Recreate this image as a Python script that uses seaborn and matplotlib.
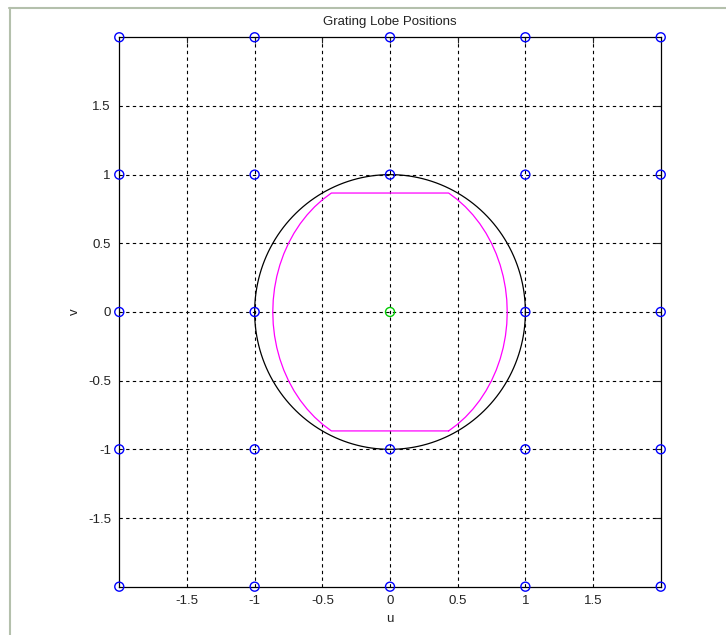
import numpy as np
import pandas as pd
import matplotlib
matplotlib.use("Agg")
import matplotlib.pyplot as plt
from matplotlib.lines import Line2D
import seaborn as sns

# Grating lobe lattice (u, v) and the main beam
lobe_u = [-2, -1, 0, 1, 2]
lobe_v = [-2, -1, 0, 1, 2]
main_beam = (0.0, 0.0)

# Scan limits (degrees) in azimuth / elevation
az_limits = [-60, 60]
el_limits = [-60, 60]
scan_step = 5

tick_vals = [-1.5, -1, -0.5, 0, 0.5, 1, 1.5]
tick_labels = ["-1.5", "-1", "-0.5", "0", "0.5", "1", "1.5"]

sns.set_theme(style="white")
plt.rcParams["font.family"] = ["Liberation Sans", "DejaVu Sans"]
plt.rcParams["font.size"] = 9.5

fig = plt.figure(figsize=(7.26, 6.35), dpi=100)
ax = fig.add_axes([0.1643, 0.0761, 0.7458, 0.8652])

# Visible-space boundary
t = np.radians(np.arange(0, 361, 2))
vis = pd.DataFrame({"u": np.cos(t), "v": np.sin(t)})
sns.lineplot(data=vis, x="u", y="v", sort=False, color="black", lw=0.9, ax=ax,
             estimator=None)

# Scan region boundary: az = +/-limit sides, el = +/-limit top/bottom
az0, az1 = az_limits
el0, el1 = el_limits
els = np.arange(el0, el1 + 1, scan_step)
azs = np.arange(az0, az1 + 1, scan_step)
path_az = np.concatenate([np.full(len(els), az1), azs[::-1], np.full(len(els), az0), azs])
path_el = np.concatenate([els, np.full(len(azs), el1), els[::-1], np.full(len(azs), el0)])
ra, re = np.radians(path_az), np.radians(path_el)
scan = pd.DataFrame({"u": np.cos(re) * np.sin(ra), "v": np.sin(re)})
sns.lineplot(data=scan, x="u", y="v", sort=False, color="#ff00ff", lw=0.9, ax=ax,
             estimator=None)

# Grating lobes
uu, vv = np.meshgrid(lobe_u, lobe_v)
lobes = pd.DataFrame({"u": uu.ravel(), "v": vv.ravel()})
lobes = lobes[~((lobes.u == main_beam[0]) & (lobes.v == main_beam[1]))]
sns.scatterplot(data=lobes, x="u", y="v", marker="o", s=42, facecolor="none",
                edgecolor="#0000ff", linewidth=1.0, ax=ax, clip_on=False, zorder=5)
sns.scatterplot(x=[main_beam[0]], y=[main_beam[1]], marker="o", s=42, facecolor="none",
                edgecolor="#00cc00", linewidth=1.0, ax=ax, clip_on=False, zorder=5)

ax.set_xlim(-2, 2)
ax.set_ylim(-2, 2)
ax.set_xticks(tick_vals)
ax.set_xticklabels(tick_labels)
ax.set_yticks(tick_vals)
ax.set_yticklabels(tick_labels)
ax.grid(True, color="black", linestyle=(0, (3, 3)), linewidth=0.8)
ax.tick_params(direction="in", length=4, width=0.8, colors="#222222", labelsize=9.5,
               top=True, right=True, pad=6)
for s in ax.spines.values():
    s.set_color("black")
    s.set_linewidth(0.9)

ax.set_xlabel("u", fontsize=9.5, labelpad=4, color="#222222")
ax.set_ylabel("v", fontsize=9.5, labelpad=5, color="#222222")
ax.set_title("Grating Lobe Positions", fontsize=9.5, pad=9, color="#222222")

# Window frame
frame_c = "#b4c0ac"
fig.add_artist(Line2D([9 / 726, 1], [1 - 7.5 / 635] * 2, color=frame_c, lw=1.5))
fig.add_artist(Line2D([9.5 / 726] * 2, [0, 1 - 7.5 / 635], color=frame_c, lw=1.5))

fig.savefig("out.png", dpi=100, facecolor="white")
